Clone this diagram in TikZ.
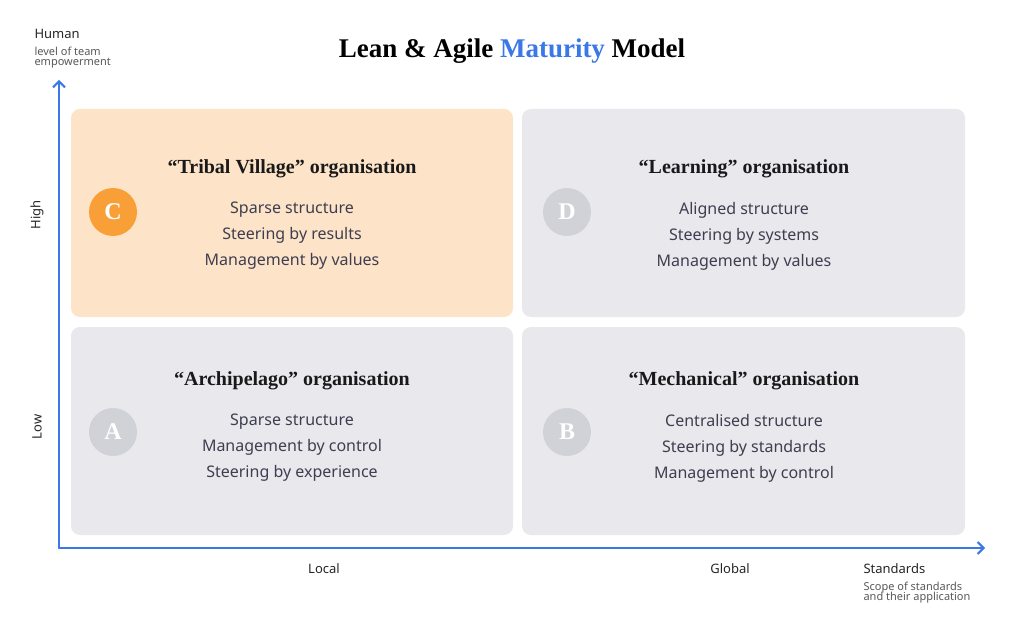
\documentclass[tikz,border=0pt]{standalone}
\usepackage{fontspec}
\usetikzlibrary{arrows.meta}
\setmainfont{Noto Sans}
\newfontfamily\hfont{Liberation Serif}
\begin{document}
\begin{tikzpicture}[x=1pt,y=-1pt,
  quad/.style={rounded corners=9pt},
  badge/.style={circle,minimum size=48pt,inner sep=0pt,text=white,font=\hfont\bfseries\fontsize{24}{24}\selectfont},
  head/.style={font=\hfont\bfseries\fontsize{20}{20}\selectfont,text=black!90},
  body/.style={font=\fontsize{16}{26}\selectfont,text=txt,align=center},
  axl/.style={font=\fontsize{13}{13}\selectfont,text=black!85},
  small/.style={font=\fontsize{11}{11}\selectfont,text=black!65,align=left,anchor=north west}]
\definecolor{blu}{HTML}{3B78E7}
\definecolor{org}{HTML}{FDE4C8}
\definecolor{orc}{HTML}{F8A037}
\definecolor{gry}{HTML}{E8E8ED}
\definecolor{grc}{HTML}{D1D1D8}
\definecolor{txt}{HTML}{3E3E50}
\useasboundingbox (0,0) rectangle (1024,628);
\fill[white] (0,0) rectangle (1024,628);
\node[font=\hfont\bfseries\fontsize{27}{27}\selectfont] (title) at (512,51) {Lean \& Agile \textcolor{blu}{Maturity} Model};
\fill[org,quad] (71,109) rectangle (513,317);
\fill[gry,quad] (522,109) rectangle (965,317);
\fill[gry,quad] (71,327) rectangle (513,535);
\fill[gry,quad] (522,327) rectangle (965,535);
\coordinate (o) at (59,548);
\coordinate (yt) at (59,80);
\coordinate (xt) at (985,548);
\draw[blu,line width=2pt,line cap=round,->,>={Straight Barb[length=6pt,width=12pt]}] (o) -- (yt);
\draw[blu,line width=2pt,line cap=round,->,>={Straight Barb[length=6pt,width=12pt]}] (o) -- (xt);
\node[badge,fill=orc] (c) at (113,212) {C};
\node[badge,fill=grc] (d) at (567,212) {D};
\node[badge,fill=grc] (a) at (113,432) {A};
\node[badge,fill=grc] (b) at (567,432) {B};
\node[head] (hc) at (292,169) {“Tribal Village” organisation};
\node[head] (hd) at (744,169) {“Learning” organisation};
\node[head] (ha) at (292,381) {“Archipelago” organisation};
\node[head] (hb) at (744,381) {“Mechanical” organisation};
\node[body] (tc) at (292,236) {Sparse structure\\Steering by results\\Management by values};
\node[body] (td) at (744,236) {Aligned structure\\Steering by systems\\Management by values};
\node[body] (ta) at (292,448) {Sparse structure\\Management by control\\Steering by experience};
\node[body] (tb) at (744,448) {Centralised structure\\Steering by standards\\Management by control};
\node[axl,anchor=west] (hum) at (31,34) {Human};
\node[small] (hums) at (31,44) {level of team\\[-1pt]empowerment};
\node[axl,rotate=90] (hi) at (37,215) {High};
\node[axl,rotate=90] (lo) at (37,427) {Low};
\node[axl] (loc) at (324,569) {Local};
\node[axl] (glo) at (730,569) {Global};
\node[axl,anchor=west] (std) at (860,569) {Standards};
\node[small] (stds) at (860,579) {Scope of standards\\[-1pt]and their application};
\end{tikzpicture}
\end{document}
